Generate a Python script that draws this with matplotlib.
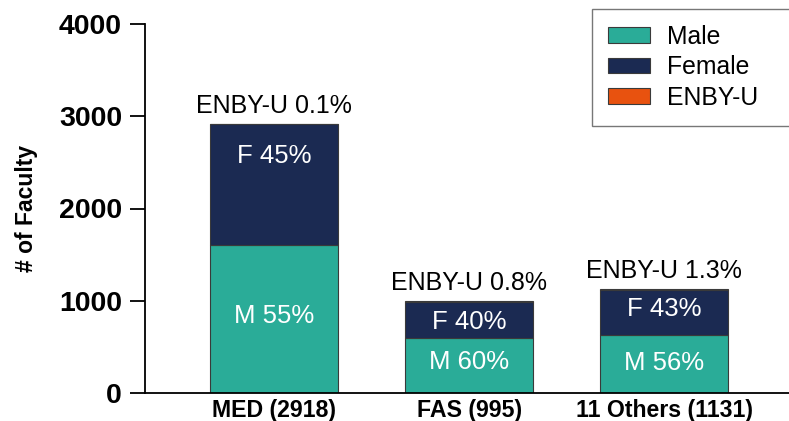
import matplotlib.pyplot as plt
import numpy as np

plt.rcParams['font.family'] = ['Liberation Sans', 'DejaVu Sans']

groups = ['MED (2918)', 'FAS (995)', '11 Others (1131)']
male = [1605, 591, 633]
female = [1310, 396, 483]
enby = [3, 8, 15]
male_lab = ['M 55%', 'M 60%', 'M 56%']
female_lab = ['F 45%', 'F 40%', 'F 43%']
enby_lab = ['ENBY-U 0.1%', 'ENBY-U 0.8%', 'ENBY-U 1.3%']

c_male = '#2aac98'
c_female = '#1b2a52'
c_enby = '#e8520f'

fig = plt.figure(figsize=(7.89, 4.21), dpi=100)
ax = fig.add_axes([145 / 789, 28 / 421, 1 - 145 / 789 + 0.01, (393 - 24) / 421])

x = np.arange(len(groups))
male = np.array(male)
female = np.array(female)
enby = np.array(enby)
w = 0.656
ec = '#3a3a3a'

ax.bar(x, male, w, color=c_male, edgecolor=ec, linewidth=0.8, label='Male')
ax.bar(x, female, w, bottom=male, color=c_female, edgecolor=ec, linewidth=0.8, label='Female')
ax.bar(x, enby, w, bottom=male + female, color=c_enby, edgecolor=ec, linewidth=0.8, label='ENBY-U')

# where the label sits inside each segment (fraction of segment height)
f_frac = [0.74, 0.45, 0.58]
m_frac = [0.52, 0.56, 0.52]
for i in range(len(groups)):
    ax.text(x[i], male[i] * m_frac[i], male_lab[i], ha='center', va='center',
            color='white', fontsize=18.5)
    ax.text(x[i], male[i] + female[i] * f_frac[i], female_lab[i], ha='center',
            va='center', color='white', fontsize=18.5)
    ax.annotate(enby_lab[i], (x[i], male[i] + female[i] + enby[i]),
                xytext=(0, 13), textcoords='offset points', ha='center',
                va='center', fontsize=18)

ax.set_ylim(0, 4000)
ax.set_xlim(-0.662, 2.68)
ax.set_yticks([0, 1000, 2000, 3000, 4000])
ax.set_xticks(x)
ax.set_xticklabels(groups, fontweight='bold', fontsize=16.7)
for t in ax.get_yticklabels():
    t.set_fontweight('bold')
    t.set_fontsize(20.5)
ax.tick_params(axis='y', length=11, width=1.3, pad=5.5)
ax.tick_params(axis='x', length=0, pad=4)
ax.set_ylabel('# of Faculty', fontweight='bold', fontsize=16.5, labelpad=15)
ax.spines['top'].set_visible(False)
ax.spines['right'].set_visible(False)
ax.spines['left'].set_linewidth(1.3)
ax.spines['bottom'].set_linewidth(1.3)

leg = fig.legend(loc='upper left', bbox_to_anchor=(592 / 789, 1 - 13 / 421, 0.3, 0.01),
                 mode='expand', fontsize=17.8, frameon=True, fancybox=False,
                 handlelength=1.7, handleheight=0.6, handletextpad=0.7,
                 labelspacing=0.26, borderpad=0.65, borderaxespad=0)
leg.get_frame().set_edgecolor('#555555')
leg.get_frame().set_linewidth(1.0)

plt.savefig('out.png', dpi=100)
